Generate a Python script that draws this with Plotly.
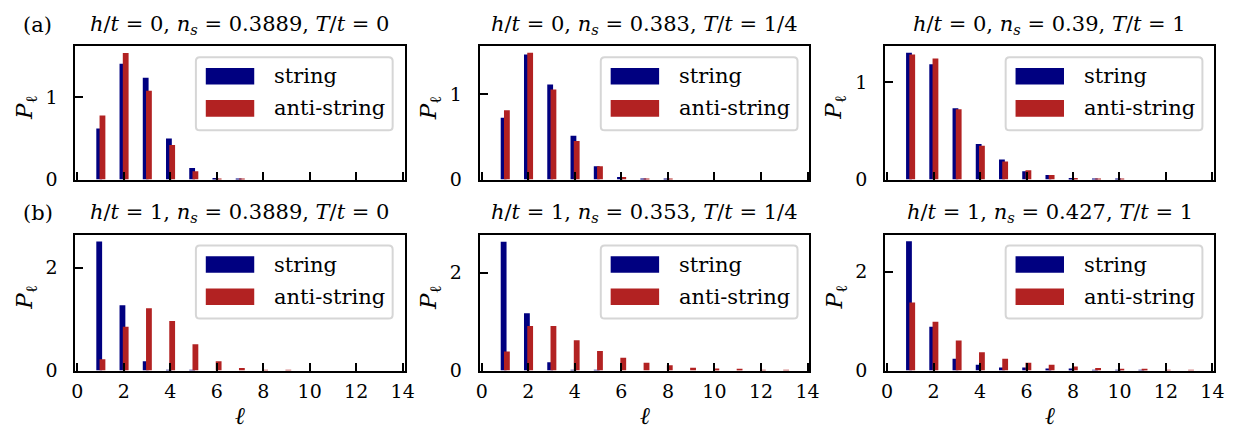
import plotly.graph_objects as go

# ---------------- data ----------------
ell = [1, 2, 3, 4, 5, 6, 7, 8, 9, 10, 11, 12, 13]

EQ = "\u00a0=\u00a0"
titles = [
    f"<i>h</i>/<i>t</i>{EQ}0, <i>n<sub>s</sub></i>{EQ}0.3889, <i>T</i>/<i>t</i>{EQ}0",
    f"<i>h</i>/<i>t</i>{EQ}0, <i>n<sub>s</sub></i>{EQ}0.383, <i>T</i>/<i>t</i>{EQ}1/4",
    f"<i>h</i>/<i>t</i>{EQ}0, <i>n<sub>s</sub></i>{EQ}0.39, <i>T</i>/<i>t</i>{EQ}1",
    f"<i>h</i>/<i>t</i>{EQ}1, <i>n<sub>s</sub></i>{EQ}0.3889, <i>T</i>/<i>t</i>{EQ}0",
    f"<i>h</i>/<i>t</i>{EQ}1, <i>n<sub>s</sub></i>{EQ}0.353, <i>T</i>/<i>t</i>{EQ}1/4",
    f"<i>h</i>/<i>t</i>{EQ}1, <i>n<sub>s</sub></i>{EQ}0.427, <i>T</i>/<i>t</i>{EQ}1",
]

string_a1 = [0.62, 1.41, 1.24, 0.50, 0.14, 0.02, 0.003, 0.0, 0.0, 0.0, 0.0, 0.0, 0.0]
anti_a1 = [0.78, 1.54, 1.08, 0.42, 0.10, 0.008, 0.001, 0.0, 0.0, 0.0, 0.0, 0.0, 0.0]

string_a2 = [0.72, 1.46, 1.11, 0.51, 0.155, 0.03, 0.008, 0.002, 0.0, 0.0, 0.0, 0.0, 0.0]
anti_a2 = [0.81, 1.48, 1.05, 0.45, 0.155, 0.03, 0.008, 0.002, 0.0, 0.0, 0.0, 0.0, 0.0]

string_a3 = [1.30, 1.18, 0.73, 0.365, 0.205, 0.086, 0.046, 0.017, 0.007, 0.002, 0.0, 0.0, 0.0]
anti_a3 = [1.28, 1.24, 0.72, 0.345, 0.185, 0.096, 0.046, 0.017, 0.007, 0.002, 0.0, 0.0, 0.0]

string_b1 = [2.51, 1.27, 0.18, 0.01, 0.002, 0.0, 0.0, 0.0, 0.0, 0.0, 0.0, 0.0, 0.0]
anti_b1 = [0.22, 0.85, 1.21, 0.965, 0.51, 0.18, 0.05, 0.01, 0.002, 0.0, 0.0, 0.0, 0.0]

string_b2 = [2.63, 1.17, 0.17, 0.01, 0.002, 0.0, 0.0, 0.0, 0.0, 0.0, 0.0, 0.0, 0.0]
anti_b2 = [0.39, 0.91, 0.91, 0.62, 0.40, 0.26, 0.16, 0.107, 0.06, 0.04, 0.025, 0.015, 0.005]

string_b3 = [2.62, 0.89, 0.24, 0.12, 0.06, 0.06, 0.04, 0.04, 0.01, 0.005, 0.002, 0.0, 0.0]
anti_b3 = [1.38, 0.99, 0.61, 0.37, 0.24, 0.16, 0.12, 0.08, 0.05, 0.03, 0.02, 0.01, 0.005]

strings = [string_a1, string_a2, string_a3, string_b1, string_b2, string_b3]
antis = [anti_a1, anti_a2, anti_a3, anti_b1, anti_b2, anti_b3]

y_ranges = [[0, 1.62], [0, 1.553], [0, 1.363], [0, 2.64], [0, 2.77], [0, 2.75]]
y_ticks = [[0, 1], [0, 1], [0, 1], [0, 2], [0, 2], [0, 2]]
x_ticks = [0, 2, 4, 6, 8, 10, 12, 14]
panel_labels = ["(a)", "(b)"]
legend_names = ["string", "anti-string"]

# ---------------- style ----------------
W, H = 1241, 434
BLUE = "#000080"
RED = "#B22222"
FONT = "DejaVu Serif"
col_px = [(64, 397), (473, 806.5), (883, 1216)]
row_px = [(39.5, 176), (232.7, 372)]


def fx(px):
    return px / W


def fy(py):
    return 1 - py / H


fig = go.Figure()
layout = dict(
    width=W, height=H,
    margin=dict(l=0, r=0, t=0, b=0),
    paper_bgcolor="white", plot_bgcolor="white",
    barmode="overlay", showlegend=False,
    font=dict(family=FONT, size=19, color="black"),
)
annotations = []
shapes = []

for i in range(6):
    r, c = divmod(i, 3)
    n = i + 1
    xa = "x" if n == 1 else f"x{n}"
    ya = "y" if n == 1 else f"y{n}"
    x0, x1 = col_px[c]
    yt, yb = row_px[r]

    fig.add_trace(go.Bar(
        x=[l - 0.06 for l in ell], y=strings[i], width=0.25,
        marker=dict(color=BLUE, line=dict(width=0)),
        xaxis=xa, yaxis=ya, name=legend_names[0]))
    fig.add_trace(go.Bar(
        x=[l + 0.08 for l in ell], y=antis[i], width=0.25,
        marker=dict(color=RED, line=dict(width=0)),
        xaxis=xa, yaxis=ya, name=legend_names[1]))

    axcommon = dict(showline=True, linecolor="black", linewidth=2, mirror=True,
                    ticks="inside", ticklen=8, tickwidth=2, tickcolor="black",
                    showgrid=False, zeroline=False,
                    tickfont=dict(family=FONT, size=19, color="black"))
    layout["xaxis" if n == 1 else f"xaxis{n}"] = dict(
        axcommon, domain=[fx(x0), fx(x1)], range=[-0.09, 14.08],
        tickvals=x_ticks, showticklabels=(r == 1), ticklabelstandoff=3,
        anchor=ya)
    layout["yaxis" if n == 1 else f"yaxis{n}"] = dict(
        axcommon, domain=[fy(yb), fy(yt)], range=y_ranges[i],
        tickvals=y_ticks[i], ticklabelstandoff=12, anchor=xa)

    xc = (x0 + x1) / 2
    # title
    annotations.append(dict(text=titles[i], x=fx(xc), y=fy(yt - 22),
                            xref="paper", yref="paper", showarrow=False,
                            xanchor="center", yanchor="middle",
                            font=dict(family=FONT, size=21, color="black")))
    # y label
    annotations.append(dict(text="<i>P</i><sub>ℓ</sub>",
                            x=fx(14) if c == 0 else fx(x0 - 50),
                            y=fy((yt + yb) / 2 - 5),
                            xref="paper", yref="paper", showarrow=False,
                            textangle=-90, xanchor="center", yanchor="middle",
                            font=dict(family=FONT, size=23, color="black")))
    # x label
    if r == 1:
        annotations.append(dict(text="<i>ℓ</i>", x=fx(xc), y=fy(419),
                                xref="paper", yref="paper", showarrow=False,
                                xanchor="center", yanchor="middle",
                                font=dict(family=FONT, size=24, color="black")))

    # legend box
    bx1 = x1 - 12
    bx0 = bx1 - 199
    by0 = yt + 11
    by1 = by0 + 75
    rr = 4
    path = (f"M {fx(bx0 + rr)},{fy(by0)} L {fx(bx1 - rr)},{fy(by0)} "
            f"Q {fx(bx1)},{fy(by0)} {fx(bx1)},{fy(by0 + rr)} "
            f"L {fx(bx1)},{fy(by1 - rr)} Q {fx(bx1)},{fy(by1)} {fx(bx1 - rr)},{fy(by1)} "
            f"L {fx(bx0 + rr)},{fy(by1)} Q {fx(bx0)},{fy(by1)} {fx(bx0)},{fy(by1 - rr)} "
            f"L {fx(bx0)},{fy(by0 + rr)} Q {fx(bx0)},{fy(by0)} {fx(bx0 + rr)},{fy(by0)} Z")
    shapes.append(dict(type="path", path=path, xref="paper", yref="paper",
                       line=dict(color="#d6d6d6", width=2), fillcolor="rgba(255,255,255,0.8)",
                       layer="above"))
    for k, (col, name) in enumerate([(BLUE, legend_names[0]), (RED, legend_names[1])]):
        cy = by0 + 19.5 + 33 * k
        shapes.append(dict(type="rect", xref="paper", yref="paper",
                           x0=fx(bx0 + 10), x1=fx(bx0 + 59),
                           y0=fy(cy + 8.5), y1=fy(cy - 8.5),
                           line=dict(width=0), fillcolor=col, layer="above"))
        annotations.append(dict(text=name, x=fx(bx0 + 77), y=fy(cy),
                                xref="paper", yref="paper", showarrow=False,
                                xanchor="left", yanchor="middle",
                                font=dict(family=FONT, size=21, color="black")))

for r, lab in enumerate(panel_labels):
    annotations.append(dict(text=lab, x=fx(26), y=fy(row_px[r][0] - 22),
                            xref="paper", yref="paper", showarrow=False,
                            xanchor="center", yanchor="middle",
                            font=dict(family=FONT, size=21, color="black")))

layout["annotations"] = annotations
layout["shapes"] = shapes
fig.update_layout(**layout)
fig.write_html("out.html")
